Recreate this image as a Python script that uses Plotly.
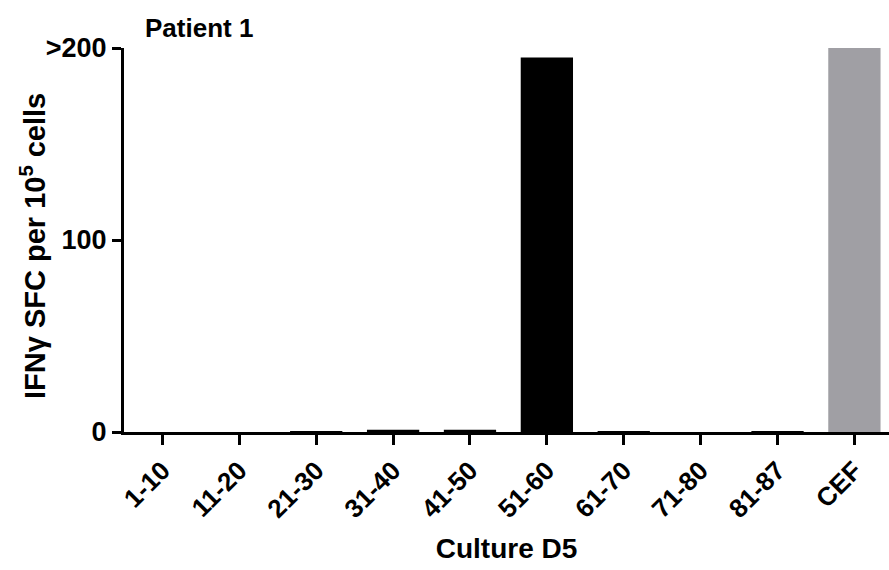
import plotly.graph_objects as go

# Peptide pools tested on day-5 cultures, plus the CEF control
pools = ["1-10", "11-20", "21-30", "31-40", "41-50", "51-60",
         "61-70", "71-80", "81-87", "CEF"]
sfc = [0.0, 0.0, 0.5, 1.2, 1.2, 195.0, 0.5, 0.0, 0.3, 200.0]
bar_colors = ["#000000"] * 9 + ["#a09fa4"]

y_tickvals = [0, 100, 200]
y_ticktext = ["0", "100", ">200"]

FONT = "Arial, Liberation Sans, sans-serif"
PLOT_W = 889 - 124
PLOT_H = 570 - 48 - 138

fig = go.Figure(
    go.Bar(
        x=list(range(len(pools))),
        y=sfc,
        marker=dict(color=bar_colors, line=dict(width=0)),
        width=0.68,
    )
)

fig.update_layout(
    width=889,
    height=570,
    margin=dict(l=124, r=0, t=48, b=138),
    paper_bgcolor="white",
    plot_bgcolor="white",
    showlegend=False,
    font=dict(family=FONT, color="black"),
    title=dict(
        text="<b>Patient 1</b>",
        x=145 / 889, xanchor="left", xref="container",
        y=1 - 28 / 570, yanchor="middle", yref="container",
        font=dict(size=26, family=FONT, color="black"),
    ),
    # rotated y-axis title placed a little closer to the tick labels
    annotations=[
        dict(
            text="<b>IFNγ SFC per 10<sup>5</sup> cells</b>",
            textangle=-90,
            xref="paper", yref="paper",
            x=-(124 - 33) / PLOT_W, y=(432 - 246) / PLOT_H,
            xanchor="center", yanchor="middle",
            showarrow=False,
            font=dict(size=29, family=FONT, color="black"),
        )
    ],
)

fig.update_xaxes(
    range=[-0.5, 9.45],
    tickmode="array",
    tickvals=list(range(len(pools))),
    ticktext=[f"<b>{p}</b>" for p in pools],
    tickangle=-45,
    tickfont=dict(size=26, family=FONT, color="black"),
    ticks="outside", ticklen=10, tickwidth=3, tickcolor="black",
    showline=True, linewidth=3, linecolor="black",
    showgrid=False, zeroline=False,
    title=dict(text="<b>Culture D5</b>", font=dict(size=28, family=FONT, color="black"), standoff=16),
)

fig.update_yaxes(
    range=[0, 200],
    tickmode="array",
    tickvals=y_tickvals,
    ticktext=[f"<b>{t}</b>" for t in y_ticktext],
    tickfont=dict(size=27, family=FONT, color="black"),
    ticks="outside", ticklen=9, tickwidth=3, tickcolor="black",
    showline=True, linewidth=3, linecolor="black",
    showgrid=False, zeroline=False,
)

fig.write_html("out.html")
